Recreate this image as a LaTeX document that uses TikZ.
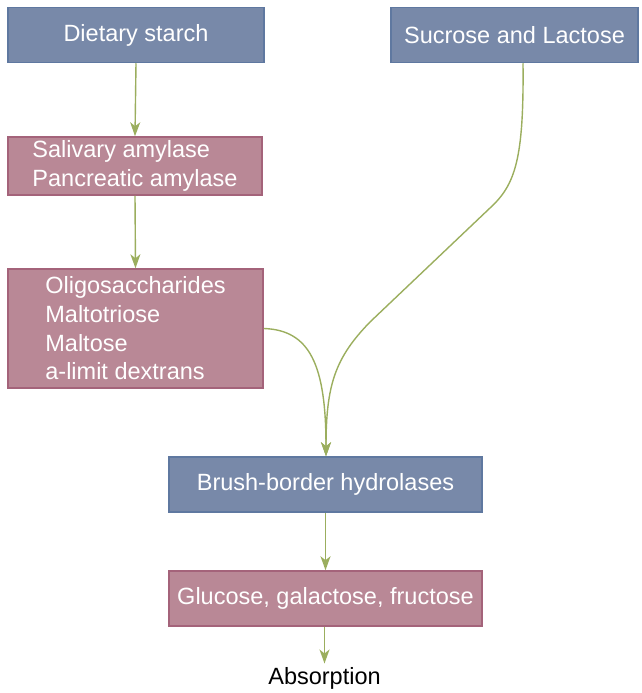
\documentclass[tikz,border=0pt]{standalone}
\usepackage{fontspec}
\setmainfont{Liberation Sans}
\usetikzlibrary{arrows.meta}
\definecolor{boxblue}{HTML}{7889A9}
\definecolor{lineblue}{HTML}{5F78A0}
\definecolor{boxpink}{HTML}{B98896}
\definecolor{linepink}{HTML}{A4637A}
\definecolor{arrowgreen}{HTML}{9BAE5E}
\begin{document}
\begin{tikzpicture}[x=1pt,y=-1pt,
  every node/.style={font=\fontsize{23.5}{28.7}\selectfont},
  bluebox/.style={draw=lineblue,fill=boxblue,line width=1.5pt,text=white,minimum height=55pt,inner sep=0pt},
  pinkbox/.style={draw=linepink,fill=boxpink,line width=1.5pt,text=white,inner sep=0pt,align=left},
  flow/.style={draw=arrowgreen,line width=1.4pt,-{Stealth[length=14pt,width=10pt,inset=4pt]}}]
\useasboundingbox (0,0) rectangle (641,693);

\node[bluebox,minimum width=256pt] (starch) at (136,35) {Dietary starch};
\node[bluebox,minimum width=247pt] (sugar) at (514.5,35) {Sucrose and Lactose};
\node[pinkbox,minimum width=254pt,minimum height=58pt] (amylase) at (135,166) {Salivary amylase\\Pancreatic amylase};
\node[pinkbox,minimum width=255pt,minimum height=119pt] (oligo) at (135.5,328.5) {Oligosaccharides\\Maltotriose\\Maltose\\a-limit dextrans};
\node[bluebox,minimum width=313pt] (brush) at (325.5,484.5) {Brush-border hydrolases};
\node[pinkbox,minimum width=313pt,minimum height=55pt] (mono) at (325.5,598.5) {Glucose, galactose, fructose};
\node (absorb) at (324.5,678) {Absorption};

\draw[flow] (starch.south) -- (amylase.north);
\draw[flow] (amylase.south) -- (oligo.north);
\draw[flow] (oligo.east) .. controls (310,330) and (326,365) .. ([xshift=0.5pt]brush.north);
\draw[flow] ([xshift=8.5pt]sugar.south) .. controls (524,160) and (515,185) .. (490,208)
  -- (370,322) .. controls (335,358) and (326,385) .. ([xshift=0.5pt]brush.north);
\draw[flow] (brush.south) -- (mono.north);
\draw[flow] (mono.south -| absorb.north) -- (absorb.north);
\end{tikzpicture}
\end{document}
